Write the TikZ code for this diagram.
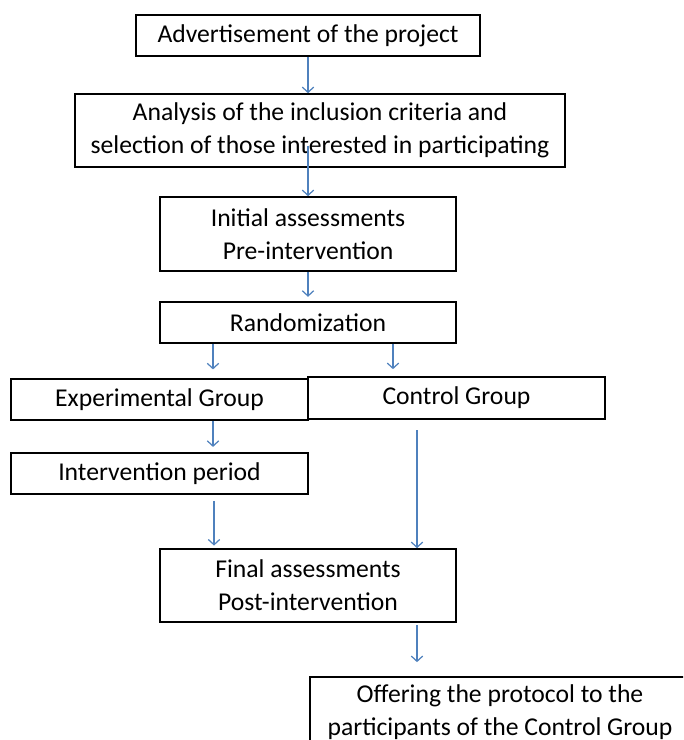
\documentclass[tikz,border=0pt]{standalone}
\usepackage{fontspec}
\setmainfont{Carlito}
\usetikzlibrary{arrows.meta}
\definecolor{flowedge}{HTML}{4F81BD}

\begin{document}
\begin{tikzpicture}[
  x=0.02cm, y=-0.02cm,
  box/.style={rectangle, draw=black, line width=0.9pt, inner sep=0pt,
              align=center, font=\fontsize{14.6}{18.6}\selectfont},
  arr/.style={draw=flowedge, line width=0.7pt,
              -{Straight Barb[length=3pt, width=6.5pt]}},
]
\clip (0,0) rectangle (683,740);
\node[box, minimum width=344*0.02cm, minimum height=41*0.02cm] (adv) at (308,35.5)
  {Advertisement of the project};
\node[box, minimum width=490*0.02cm, minimum height=73*0.02cm] (anal) at (320,130.5)
  {Analysis of the inclusion criteria and\\selection of those interested in participating};
\node[box, minimum width=296*0.02cm, minimum height=74*0.02cm] (init) at (308,234)
  {Initial assessments\\Pre-intervention};
\node[box, minimum width=296*0.02cm, minimum height=41*0.02cm] (rand) at (308,322.5)
  {Randomization};
\node[box, minimum width=297*0.02cm, minimum height=41*0.02cm] (expg) at (159.5,399.5)
  {Experimental Group};
\node[box, minimum width=297*0.02cm, minimum height=42*0.02cm] (ctrl) at (456.5,398)
  {Control Group};
\node[box, minimum width=297*0.02cm, minimum height=41*0.02cm] (interv) at (159.5,473.5)
  {Intervention period};
\node[box, minimum width=296*0.02cm, minimum height=73*0.02cm] (final) at (308,585.5)
  {Final assessments\\Post-intervention};
\node[box, minimum width=380*0.02cm, minimum height=70*0.02cm] (offer) at (500,712)
  {Offering the protocol to the\\participants of the Control Group};
% connectors (the second one starts inside the box above)
\draw[arr] (adv.south) -- (adv.south |- anal.north);
\draw[arr] ([yshift=12.5pt]anal.south -| init.north) -- (init.north);
\draw[arr, shorten >=2.5pt] (init.south) -- (rand.north);
\draw[arr, shorten >=5pt] (213,0 |- rand.south) -- (213,0 |- expg.north);
\draw[arr, shorten >=4pt] (393,0 |- rand.south) -- (393,0 |- ctrl.north);
\draw[arr, shorten >=3pt] (213,0 |- expg.south) -- (213,0 |- interv.north);
\draw[arr, shorten <=3.5pt, shorten >=1.5pt] (214,0 |- interv.south) -- (214,0 |- final.north);
\draw[arr, shorten <=6pt] (417,0 |- ctrl.south) -- (417,0 |- final.north);
\draw[arr, shorten <=1.5pt, shorten >=8pt] (417,0 |- final.south) -- (417,0 |- offer.north);
\end{tikzpicture}
\end{document}
